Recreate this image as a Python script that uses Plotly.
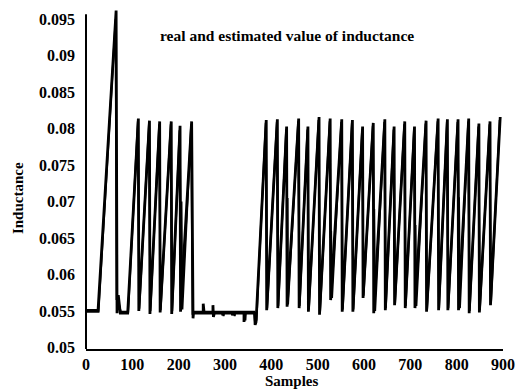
import plotly.graph_objects as go

# ---- data ----
real_samples = [0, 26, 65, 66, 67, 67, 70, 74, 90,
                113, 114, 137, 138, 159, 160, 184, 185, 203, 204, 228, 231, 232,
                253, 253, 255, 274, 274, 275, 277, 295, 295, 296, 316, 316, 317,
                341, 341, 343, 364, 365, 367,
                389, 390, 413, 414, 433, 434, 459, 460, 479, 480, 503, 504, 527, 528,
                552, 553, 575, 576, 597, 598, 620, 621, 645, 646, 665, 666, 688, 689,
                709, 710, 734, 735, 760, 761, 780, 781, 803, 804, 826, 827, 848, 849,
                872, 873, 894]
real_values = [0.0551, 0.0551, 0.0962, 0.0547, 0.0547, 0.0570, 0.0570, 0.0547, 0.0547,
               0.0814, 0.0550, 0.0811, 0.0546, 0.0810, 0.0548, 0.0810, 0.0546, 0.0804, 0.0549,
               0.0810, 0.0540, 0.0547,
               0.0547, 0.0560, 0.0547, 0.0547, 0.0558, 0.0542, 0.0547, 0.0547, 0.0544, 0.0547,
               0.0547, 0.0544, 0.0547, 0.0547, 0.0535, 0.0547, 0.0547, 0.0531, 0.0535,
               0.0812, 0.0551, 0.0813, 0.0554, 0.0803, 0.0556, 0.0814, 0.0554, 0.0803, 0.0549,
               0.0816, 0.0545, 0.0814, 0.0565, 0.0813, 0.0549, 0.0812, 0.0549, 0.0803, 0.0568,
               0.0808, 0.0547, 0.0813, 0.0551, 0.0803, 0.0558, 0.0810, 0.0554, 0.0803, 0.0554,
               0.0811, 0.0549, 0.0814, 0.0551, 0.0813, 0.0551, 0.0813, 0.0551, 0.0814, 0.0547,
               0.0807, 0.0548, 0.0810, 0.0558, 0.0816]

est_samples = [0, 27, 64, 66, 68, 71, 75, 91,
               112, 115, 136, 139, 158, 161, 183, 186, 202, 204, 206, 208, 227, 230, 233,
               250, 296, 297, 298, 320, 321, 322, 343, 344, 345, 363, 365, 368,
               388, 391, 412, 415, 432, 434, 435, 436, 458, 461, 478, 481, 502, 505,
               526, 528, 529, 531, 551, 554, 574, 577, 596, 599, 619, 621, 622, 624,
               644, 647, 664, 667, 687, 690, 708, 710, 711, 713, 733, 736, 759, 762,
               779, 782, 802, 804, 805, 807, 825, 828, 847, 850, 871, 874, 893]
est_values = [0.0549, 0.0549, 0.0950, 0.0565, 0.0567, 0.0560, 0.0549, 0.0549,
              0.0810, 0.0553, 0.0807, 0.0550, 0.0806, 0.0551, 0.0806, 0.0550, 0.0798, 0.0690,
              0.0700, 0.0552, 0.0806, 0.0545, 0.0549,
              0.0549, 0.0549, 0.0543, 0.0549, 0.0549, 0.0543, 0.0549, 0.0549, 0.0537, 0.0549,
              0.0549, 0.0533, 0.0538,
              0.0808, 0.0554, 0.0809, 0.0557, 0.0799, 0.0700, 0.0705, 0.0559, 0.0810, 0.0557,
              0.0799, 0.0552, 0.0812, 0.0548,
              0.0810, 0.0650, 0.0660, 0.0568, 0.0809, 0.0552, 0.0808, 0.0552, 0.0799, 0.0571,
              0.0804, 0.0680, 0.0690, 0.0550,
              0.0809, 0.0554, 0.0799, 0.0561, 0.0806, 0.0557, 0.0799, 0.0660, 0.0668, 0.0557,
              0.0807, 0.0552, 0.0810, 0.0554,
              0.0809, 0.0554, 0.0809, 0.0700, 0.0706, 0.0554, 0.0810, 0.0550, 0.0803, 0.0551,
              0.0806, 0.0561, 0.0812]

x_ticks = [0, 100, 200, 300, 400, 500, 600, 700, 800, 900]
y_ticks = [0.05, 0.055, 0.06, 0.065, 0.07, 0.075, 0.08, 0.085, 0.09, 0.095]
y_tick_labels = ["0.05", "0.055", "0.06", "0.065", "0.07", "0.075", "0.08", "0.085", "0.09", "0.095"]

title_text = "real and estimated value of inductance"
x_title = "Samples"
y_title = "Inductance"

SERIF = "Liberation Serif, Times New Roman, serif"

fig = go.Figure()
fig.add_trace(go.Scatter(x=real_samples, y=real_values, mode="lines",
                         line=dict(color="black", width=2.8), name="real"))
fig.add_trace(go.Scatter(x=est_samples, y=est_values, mode="lines",
                         line=dict(color="black", width=2), name="estimated"))

fig.update_layout(
    width=525, height=392,
    margin=dict(l=86, r=15, t=10, b=43),
    paper_bgcolor="white", plot_bgcolor="white",
    showlegend=False,
    font=dict(family=SERIF, color="black"),
    xaxis=dict(range=[0, 900], tickvals=x_ticks, showgrid=False, zeroline=False,
               showline=True, linecolor="black", linewidth=2, ticks="",
               ticklabelstandoff=0,
               tickfont=dict(family=SERIF, size=16, color="black", weight="bold")),
    yaxis=dict(range=[0.04979, 0.09628], tickvals=y_ticks, ticktext=y_tick_labels,
               showgrid=False, zeroline=False, showline=False, ticks="",
               ticklabelstandoff=10,
               tickfont=dict(family=SERIF, size=16, color="black", weight="bold")),
    shapes=[dict(type="line", xref="paper", yref="y", x0=0, x1=0,
                 y0=0.04979, y1=0.0957, line=dict(color="black", width=2))],
    annotations=[
        dict(text=title_text, xref="paper", yref="paper", x=0.481, y=0.926,
             xanchor="center", yanchor="middle", showarrow=False,
             font=dict(family=SERIF, size=15.5, color="black", weight="bold")),
        dict(text=x_title, xref="paper", yref="paper", x=0.494, y=-0.094,
             xanchor="center", yanchor="middle", showarrow=False,
             font=dict(family=SERIF, size=15, color="black", weight="bold")),
        dict(text=y_title, xref="paper", yref="paper", x=-0.1616, y=0.444,
             xanchor="center", yanchor="middle", showarrow=False, textangle=-90,
             font=dict(family=SERIF, size=15, color="black", weight="bold")),
    ],
)

fig.write_html("out.html", config={"displayModeBar": False},
               post_script="document.body.style.margin='0';")
